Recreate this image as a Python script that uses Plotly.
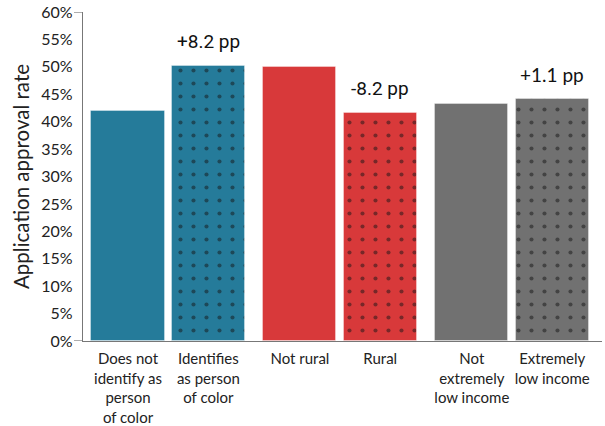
import plotly.graph_objects as go

categories = ["Does not<br>identify as<br>person<br>of color", "Identifies<br>as person<br>of color",
              "Not rural", "Rural",
              "Not<br>extremely<br>low income", "Extremely<br>low income"]
positions = [0, 1, 2.14, 3.14, 4.28, 5.28]
rates = [42.0, 50.2, 49.9, 41.5, 43.3, 44.2]
colors = ["#257b9a", "#257b9a", "#d8393a", "#d8393a", "#717171", "#717171"]
patterned = [False, True, False, True, False, True]
diff_labels = ["+8.2 pp", "-8.2 pp", "+1.1 pp"]
diff_fonts = ["Roboto", "Roboto", "Lato"]
y_ticks = list(range(0, 61, 5))

fig = go.Figure()
for i in range(len(rates)):
    pat = dict(shape=".", fgcolor="#151515", size=13, solidity=0.08, fillmode="overlay") if patterned[i] else dict(shape="")
    fig.add_trace(go.Bar(
        x=[positions[i]], y=[rates[i]], width=0.91,
        marker=dict(color=colors[i], line=dict(color="rgba(255,255,255,0.35)", width=1), pattern=pat),
        showlegend=False, hoverinfo="skip"))

for k in range(3):
    i = 2 * k + 1
    fig.add_annotation(x=positions[i], y=rates[i], text=diff_labels[k], showarrow=False,
                       yanchor="bottom", yshift=11,
                       font=dict(family=diff_fonts[k], size=19, color="#111"))

# end ticks on y axis
for v in [0, 60]:
    fig.add_shape(type="line", xref="paper", yref="y", xsizemode="pixel", xanchor=0,
                  x0=-9, x1=0, y0=v, y1=v, line=dict(color="#777", width=1.2))

fig.update_layout(
    width=605, height=426,
    margin=dict(l=83, r=3, t=12, b=85),
    paper_bgcolor="white", plot_bgcolor="white",
    font=dict(family="Lato", size=16, color="#222"),
    bargap=0,
    xaxis=dict(range=[-0.56, 5.90], tickvals=positions, ticktext=categories,
               showline=True, linecolor="#777", linewidth=1.2, ticks="", tickangle=0,
               automargin=False,
               showgrid=False, zeroline=False, ticklabelstandoff=4,
               tickfont=dict(size=15, color="#222")),
    yaxis=dict(range=[0, 60], tickvals=y_ticks, ticktext=[f"{v}%" for v in y_ticks],
               showline=True, linecolor="#777", linewidth=1.2, ticks="",
               automargin=False,
               showgrid=False, zeroline=False, ticklabelstandoff=6,
               tickfont=dict(size=16, color="#222"),
               title=dict(text="Application approval rate", font=dict(size=20.5, color="#222"), standoff=6)),
)

fig.write_html("out.html")
